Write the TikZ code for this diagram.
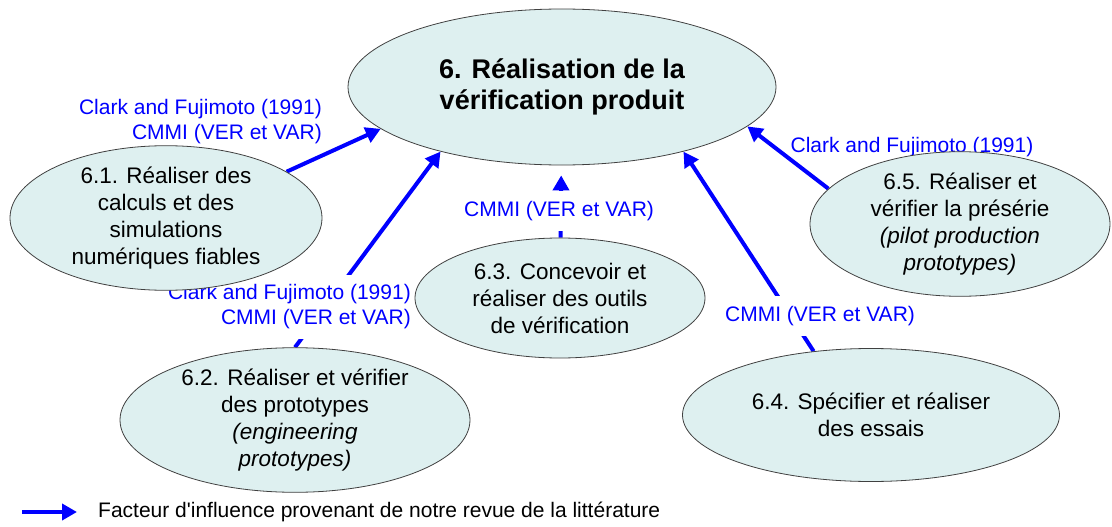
\documentclass[tikz,border=0pt]{standalone}
\usepackage{fontspec}
\setmainfont{Liberation Sans}[Ligatures=TeXOff]
\usetikzlibrary{shapes.geometric, arrows.meta, positioning}
\definecolor{fondbulle}{RGB}{222,240,240}
\definecolor{lien}{RGB}{0,0,255}
\pgfdeclarelayer{fleches}
\pgfdeclarelayer{etiquettes}
\pgfsetlayers{fleches,etiquettes,main}

\begin{document}
\begin{tikzpicture}[x=1pt, y=-1pt,
    bulle/.style={ellipse, draw=black!75, line width=0.8pt, fill=fondbulle, inner sep=0pt, align=center, font=\fontsize{22.5}{27}\selectfont},
    lbl/.style={text=lien, inner sep=0pt, font=\fontsize{21}{25}\selectfont},
    cache/.style={fill=white, inner xsep=2pt, inner ysep=10pt},
    fleche/.style={draw=lien, line width=4pt, -{Triangle[width=16pt,length=15pt]}}]
                \useasboundingbox (0,0) rectangle (1112,527);

                % bulles
                \node [bulle, minimum width=428pt, minimum height=156pt, font=\fontsize{27}{31}\selectfont\bfseries] (e6) at (562,87) {6. Réalisation de la\\vérification produit};
                \node [bulle, minimum width=312pt, minimum height=130pt] (e61) at (166,218) {6.1. Réaliser des\\calculs et des\\simulations\\numériques fiables};
                \node [bulle, minimum width=350pt, minimum height=144pt] (e62) at (295,420) {6.2. Réaliser et vérifier\\des prototypes\\\textit{(engineering}\\\textit{prototypes)}};
                \node [bulle, minimum width=290pt, minimum height=120pt] (e63) at (560,298) {6.3. Concevoir et\\réaliser des outils\\de vérification};
                \node [bulle, minimum width=377pt, minimum height=133pt] (e64) at (871,415) {6.4. Spécifier et réaliser\\des essais};
                \node [bulle, minimum width=300pt, minimum height=118pt] (e65) at (960,224) {6.5. Réaliser et\\vérifier la présérie\\\textit{(pilot production}\\\textit{prototypes)}};

                % sources
                \begin{pgfonlayer}{etiquettes}
                \node [lbl, align=right, anchor=east] (l61) at (322,122) {Clark and Fujimoto (1991)\\CMMI (VER et VAR)};
                \node [lbl, cache, align=right, anchor=east] (l62) at (413,307) {Clark and Fujimoto (1991)\\CMMI (VER et VAR)};
                \node [lbl, cache] (l63) at (559,211) {CMMI (VER et VAR)};
                \node [lbl, cache] (l64) at (820,316) {CMMI (VER et VAR)};
                \node [lbl] (l65) at (912,147) {Clark and Fujimoto (1991)};
                \end{pgfonlayer}

                \begin{pgfonlayer}{fleches}
                \draw [fleche] (e61.21) -- (e6.193);
                \draw [fleche] (e62.north) -- (e6.208);
                \draw [fleche, shorten >=10pt] (e63) -- (e6);
                \draw [fleche] (e64.132) -- (e6.332);
                \draw [fleche] (e65.165) -- (e6.348);
                \end{pgfonlayer}

                % legende
                \coordinate (legd) at (22,512);
                \node [anchor=west, inner sep=0pt, font=\fontsize{21}{25}\selectfont] (leg) at (98,512) {Facteur d'influence provenant de notre revue de la littérature};
                \draw [fleche, shorten >=21pt] (legd) -- (leg.west);
            \end{tikzpicture}
\end{document}
